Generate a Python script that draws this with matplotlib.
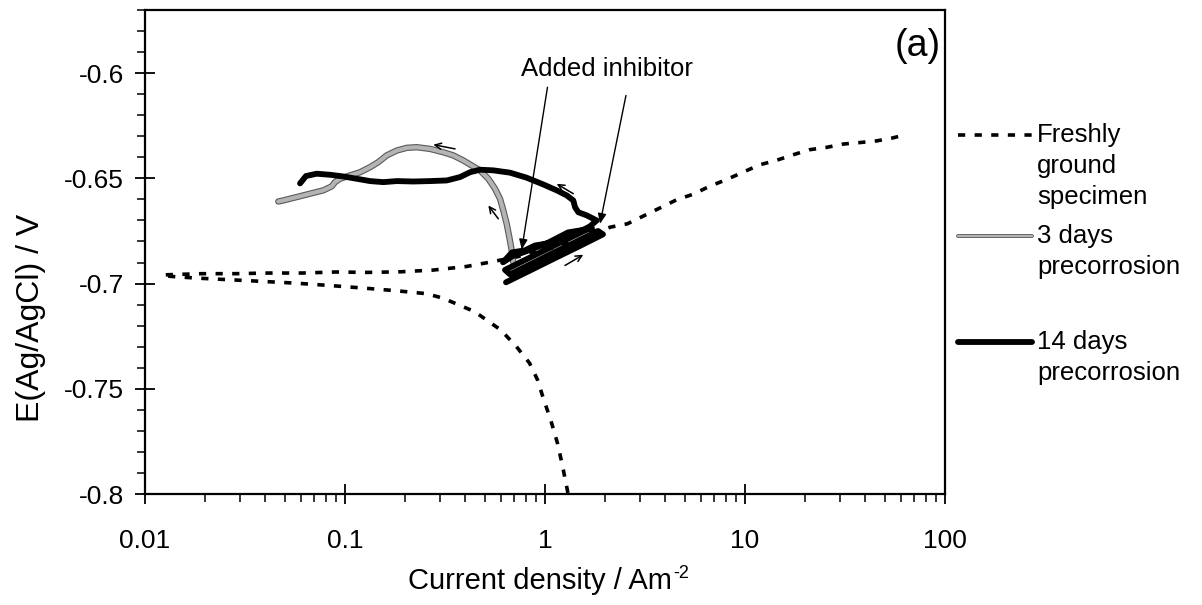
import matplotlib
matplotlib.use('Agg')
import matplotlib.pyplot as plt
import matplotlib.patheffects as pe
from matplotlib.lines import Line2D
from matplotlib.ticker import LogLocator, FixedLocator, NullFormatter
import numpy as np

plt.rcParams['font.family'] = ['Liberation Sans', 'DejaVu Sans']
plt.rcParams['axes.unicode_minus'] = False

# ---------------- data ----------------
# Freshly ground specimen: cathodic branch (from bottom up to the turn) then anodic branch
fresh_x = [1.302, 1.225, 1.154, 1.067, 0.986, 0.917, 0.837, 0.719, 0.600, 0.444,
           0.308, 0.255, 0.180, 0.1222, 0.0832, 0.0565, 0.0392, 0.0267, 0.0181, 0.0135,
           0.0122, 0.0130, 0.0192, 0.0282, 0.0415, 0.0610, 0.0898, 0.1294, 0.1905, 0.2265,
           0.275, 0.404, 0.540, 0.75, 1.10, 1.60, 2.12, 2.58, 3.12, 3.75,
           4.55, 5.52, 6.61, 8.02, 9.72, 11.8, 14.3, 17.4, 21.0, 25.5,
           31.0, 37.5, 45.5, 54.2, 63.2]
fresh_y = [-0.7995, -0.7869, -0.7758, -0.7647, -0.7552, -0.7457, -0.7378, -0.7299, -0.7220, -0.7133,
           -0.7069, -0.7048, -0.7034, -0.7021, -0.7009, -0.6998, -0.6990, -0.6982, -0.6974, -0.6966,
           -0.6960, -0.6958, -0.6953, -0.6953, -0.6950, -0.6950, -0.6945, -0.6947, -0.6944, -0.6940,
           -0.6936, -0.6919, -0.6897, -0.6870, -0.6830, -0.6780, -0.6732, -0.6716, -0.6678, -0.6641,
           -0.6602, -0.6575, -0.6539, -0.6507, -0.6472, -0.6436, -0.6415, -0.6388, -0.6364, -0.6353,
           -0.6337, -0.6330, -0.6322, -0.6309, -0.6293]

# 3 days precorrosion (starts in the cluster, goes up and to the left)
d3_x = [0.694, 0.6816, 0.6630, 0.6433, 0.6186, 0.5957, 0.5623, 0.5206, 0.4732, 0.4300,
        0.3904, 0.3479, 0.3101, 0.2661, 0.2283, 0.2035, 0.1814, 0.1616, 0.1467, 0.1334,
        0.1189, 0.1059, 0.0944, 0.0891, 0.0858, 0.0779, 0.0668, 0.0573, 0.0491, 0.0464]
d3_y = [-0.6898, -0.6842, -0.6779, -0.6716, -0.6652, -0.6597, -0.6549, -0.6502, -0.6462, -0.6439,
        -0.6415, -0.6391, -0.6376, -0.6360, -0.6352, -0.6355, -0.6368, -0.6391, -0.6423, -0.6447,
        -0.6471, -0.6486, -0.6502, -0.6518, -0.6538, -0.6557, -0.6573, -0.6589, -0.6605, -0.6610]

# 14 days precorrosion: back-and-forth sweeps forming the band, then up and to the left
d14_x = [0.6383, 0.8414, 1.1220, 1.4962, 1.9498,
         1.8408, 1.4125, 1.0593, 0.8222, 0.6683,
         0.6310, 0.7674, 1.0000, 1.3032, 1.6788,
         1.7180, 1.3032, 1.0351, 0.8414, 0.6839, 0.6166,
         0.6839, 0.7943, 0.8913, 1.0351, 1.1885, 1.4125, 1.6788,
         1.813, 1.617, 1.467, 1.413, 1.385, 1.284,
         1.144, 0.9806, 0.8100, 0.6683, 0.5514, 0.4732, 0.4217, 0.3758, 0.3225, 0.2661,
         0.2195, 0.1814, 0.1554, 0.1334, 0.1144, 0.0980, 0.0841, 0.0722, 0.0638, 0.0596]
d14_y = [-0.6994, -0.6938, -0.6879, -0.6821, -0.6766,
         -0.6750, -0.6804, -0.6862, -0.6914, -0.6956,
         -0.6935, -0.6895, -0.6841, -0.6787, -0.6736,
         -0.6738, -0.6757, -0.6806, -0.6840, -0.6871, -0.6899,
         -0.6852, -0.6842, -0.6819, -0.6809, -0.6785, -0.6766, -0.6728,
         -0.6700, -0.6676, -0.6661, -0.6637, -0.6605, -0.6581,
         -0.6557, -0.6529, -0.6497, -0.6473, -0.6462, -0.6459, -0.6471, -0.6494, -0.6510, -0.6513,
         -0.6515, -0.6513, -0.6518, -0.6513, -0.6502, -0.6491, -0.6483, -0.6478, -0.6489, -0.6524]

# "Added inhibitor" arrows: (tail x, tail y, tip x, tip y)
inhib_arrows = [(1.029, -0.6067, 0.765, -0.6838),
                (2.54, -0.6106, 1.884, -0.6716)]
# small direction arrows: (tail x, tail y, head x, head y)
dir_arrows = [(0.355, -0.6360, 0.2764, -0.6340),
              (0.584, -0.6692, 0.5206, -0.6629),
              (1.385, -0.6573, 1.144, -0.6526),
              (1.259, -0.6914, 1.554, -0.6863)]

x_ticks = [0.01, 0.1, 1, 10, 100]
x_ticklabels = ['0.01', '0.1', '1', '10', '100']
y_ticks = [-0.8, -0.75, -0.7, -0.65, -0.6]
y_ticklabels = ['-0.8', '-0.75', '-0.7', '-0.65', '-0.6']

# ---------------- figure ----------------
W, H = 1202, 605
fig = plt.figure(figsize=(W / 100, H / 100), dpi=100)
ax = fig.add_axes([145 / W, 1 - 494 / H, 800 / W, 484 / H])

fresh_style = dict(color='black', lw=2.6, linestyle=(0, (2.0, 2.6)), dash_capstyle='butt')
grey_style = dict(color='#b4b4b4', lw=3.0,
                  path_effects=[pe.Stroke(linewidth=4.6, foreground='#5a5a5a'), pe.Normal()],
                  solid_joinstyle='round', solid_capstyle='round')
black_style = dict(color='black', lw=4.2, solid_joinstyle='round', solid_capstyle='round')

ax.plot(fresh_x, fresh_y, zorder=2, **fresh_style)
ax.plot(d3_x, d3_y, zorder=3, **grey_style)
ax.plot(d14_x, d14_y, zorder=4, **black_style)

for tx, ty, hx, hy in inhib_arrows:
    ax.annotate('', xy=(hx, hy), xytext=(tx, ty),
                arrowprops=dict(arrowstyle='-|>,head_length=0.6,head_width=0.25',
                                color='black', lw=1.0, shrinkA=0, shrinkB=0),
                zorder=6)
for tx, ty, hx, hy in dir_arrows:
    ax.annotate('', xy=(hx, hy), xytext=(tx, ty),
                arrowprops=dict(arrowstyle='->,head_length=0.45,head_width=0.22',
                                color='black', lw=1.1, shrinkA=0, shrinkB=0),
                zorder=6)

ax.text((607 - 145) / 800, (494 - 69) / 484, 'Added inhibitor',
        transform=ax.transAxes, ha='center', va='center', fontsize=18.5)
ax.text((941 - 145) / 800, (494 - 46) / 484, '(a)', transform=ax.transAxes,
        ha='right', va='center', fontsize=27)

ax.set_xscale('log')
ax.set_xlim(0.01, 100)
ax.set_ylim(-0.8, -0.57)
ax.set_xticks(x_ticks)
ax.set_xticklabels(x_ticklabels)
ax.xaxis.set_minor_locator(LogLocator(base=10, subs=np.arange(2, 10)))
ax.xaxis.set_minor_formatter(NullFormatter())
ax.set_yticks(y_ticks)
ax.set_yticklabels(y_ticklabels)
ax.yaxis.set_minor_locator(FixedLocator(np.round(np.arange(-0.80, -0.565, 0.01), 3)))

ax.tick_params(which='major', direction='inout', length=14, width=1.3, labelsize=19, color='black')
ax.tick_params(which='minor', direction='out', length=6, width=1.1)
ax.tick_params(axis='x', which='major', pad=18)
ax.tick_params(axis='y', which='major', pad=8)
for s in ax.spines.values():
    s.set_linewidth(1.6)

# x label with a hyphen superscript
xl = fig.text(540 / W, 1 - 581 / H, 'Current density / Am', ha='center', va='center', fontsize=21)
fig.canvas.draw()
bb = xl.get_window_extent()
fig.text((bb.x1 + 1) / W, (bb.y1 - 6) / H, '-2', ha='left', va='center', fontsize=13)

fig.text(31 / W, 1 - 318 / H, 'E(Ag/AgCl) / V', ha='center', va='center', rotation=90,
         fontsize=23)

# legend (outside, right)
def fy(p):
    return 1 - p / H

leg_items = [
    (135, fresh_style, ['Freshly', 'ground', 'specimen']),
    (236, grey_style, ['3 days', 'precorrosion']),
    (342, black_style, ['14 days', 'precorrosion']),
]
for ypix, st, lines in leg_items:
    st2 = dict(st)
    if 'path_effects' in st2:
        st2['lw'] = 1.6
        st2['path_effects'] = [pe.Stroke(linewidth=2.8, foreground='#5a5a5a'), pe.Normal()]
    fig.add_artist(Line2D([958 / W, 1032 / W], [fy(ypix), fy(ypix)], transform=fig.transFigure, **st2))
    for k, t in enumerate(lines):
        fig.text(1037 / W, fy(ypix + k * 31), t, ha='left', va='center', fontsize=18.5)

fig.savefig('out.png', dpi=100, facecolor='white')
